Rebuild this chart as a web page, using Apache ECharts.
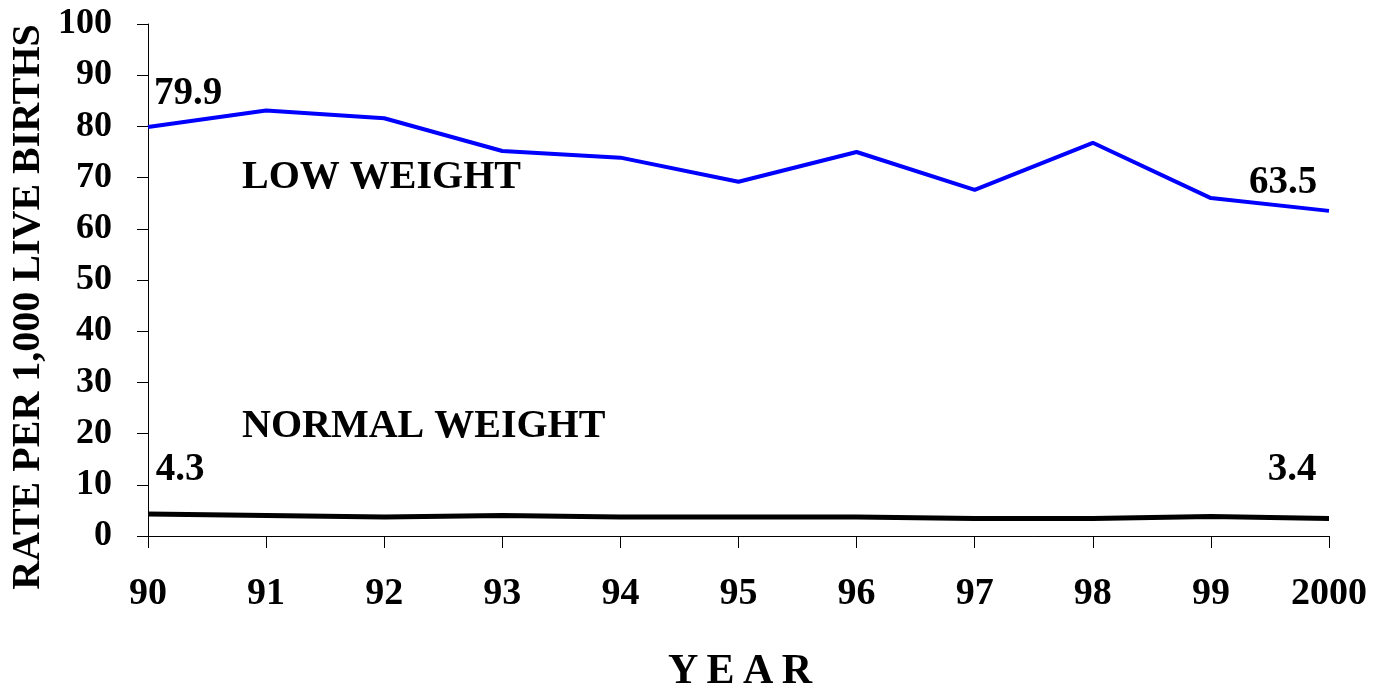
<!DOCTYPE html>
<html>
<head>
<meta charset="utf-8">
<script src="https://cdn.jsdelivr.net/npm/echarts@6/dist/echarts.min.js"></script>
<style>
  html, body { margin: 0; padding: 0; background: #fff; }
  #chart { width: 1374px; height: 692px; }
</style>
</head>
<body>
<div id="chart"></div>
<script>
// Infant mortality rate per 1,000 live births, by birth weight
const years = ['90', '91', '92', '93', '94', '95', '96', '97', '98', '99', '2000'];
const lowWeight = [79.9, 83.1, 81.6, 75.2, 73.9, 69.2, 75.0, 67.6, 76.8, 66.0, 63.5];
const normalWeight = [4.3, 4.0, 3.7, 4.0, 3.7, 3.7, 3.7, 3.4, 3.4, 3.8, 3.4];
const yTicks = [0, 10, 20, 30, 40, 50, 60, 70, 80, 90, 100];

const FONT = '"Liberation Serif", "Times New Roman", serif';
const boldText = size => ({ fontFamily: FONT, fontWeight: 'bold', fontSize: size, color: '#000' });

// Only the first and last points carry a value label
function endLabels(values, firstOffset, lastOffset) {
  return values.map((v, i) => {
    const item = { value: v };
    if (i === 0 || i === values.length - 1) {
      item.label = Object.assign({
        show: true,
        position: 'inside',
        offset: i === 0 ? firstOffset : lastOffset,
        formatter: p => p.value.toFixed(1)
      }, boldText(39));
    }
    return item;
  });
}

const chart = echarts.init(document.getElementById('chart'), null, { renderer: 'canvas' });
chart.setOption({
  animation: false,
  backgroundColor: '#fff',
  grid: { left: 148, right: 45, top: 24, bottom: 156 },
  xAxis: {
    type: 'category',
    data: years,
    boundaryGap: false,
    axisLine: { lineStyle: { color: '#000', width: 1 } },
    axisTick: { show: true, inside: false, length: 12, alignWithLabel: true, lineStyle: { color: '#000' } },
    axisLabel: Object.assign({ margin: 39, lineHeight: 38 }, boldText(38)),
    splitLine: { show: false }
  },
  yAxis: {
    type: 'value',
    min: yTicks[0],
    max: yTicks[yTicks.length - 1],
    interval: 10,
    axisLine: { show: true, lineStyle: { color: '#000', width: 1 } },
    axisTick: { show: true, inside: false, length: 11, lineStyle: { color: '#000' } },
    axisLabel: Object.assign({ margin: 36 }, boldText(36)),
    splitLine: { show: false }
  },
  graphic: [
    {
      type: 'text', x: 740, y: 672,
      style: { text: 'Y\u2009E\u2009A\u2009R', align: 'center', verticalAlign: 'middle',
        font: 'bold 42px ' + FONT, fill: '#000' }
    },
    {
      type: 'text',
      x: 29, y: 307, rotation: Math.PI / 2,
      style: { text: 'RATE PER 1,000 LIVE BIRTHS', align: 'center', verticalAlign: 'middle',
        font: 'bold 40px ' + FONT, fill: '#000' }
    },
    {
      type: 'text', x: 242, y: 178,
      style: { text: 'LOW WEIGHT', align: 'left', verticalAlign: 'middle',
        font: 'bold 40px ' + FONT, fill: '#000' }
    },
    {
      type: 'text', x: 242, y: 427,
      style: { text: 'NORMAL WEIGHT', align: 'left', verticalAlign: 'middle',
        font: 'bold 40px ' + FONT, fill: '#000' }
    }
  ],
  series: [
    {
      name: 'LOW WEIGHT',
      type: 'line',
      data: endLabels(lowWeight, [40, -33], [-46, -28]),
      symbol: 'circle',
      symbolSize: 0.1,
      showSymbol: true,
      itemStyle: { color: '#0000ff' },
      lineStyle: { color: '#0000ff', width: 4 }
    },
    {
      name: 'NORMAL WEIGHT',
      type: 'line',
      data: endLabels(normalWeight, [32, -44], [-37, -49]),
      symbol: 'circle',
      symbolSize: 0.1,
      showSymbol: true,
      itemStyle: { color: '#000' },
      lineStyle: { color: '#000', width: 5 }
    }
  ]
});
</script>
</body>
</html>
